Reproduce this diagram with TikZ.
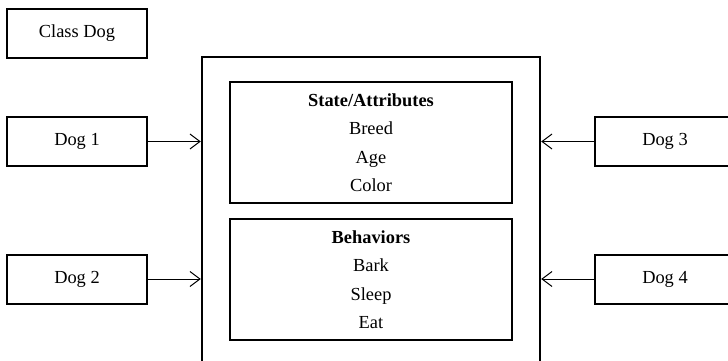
\documentclass[tikz,border=0pt]{standalone}
\usepackage{fontspec}
\setmainfont{Liberation Serif}
\usetikzlibrary{arrows.meta}

\tikzset{
	dogbox/.style={draw, line width=1pt, minimum width=70pt, minimum height=24.5pt, inner sep=0pt},
	groupbox/.style={draw, line width=1pt, minimum width=141pt, minimum height=60.5pt, align=center, inner sep=0pt},
	link/.style={line width=0.5pt, -{Straight Barb[length=5pt,width=7.5pt,line width=0.5pt]}}
}

\begin{document}
\begin{tikzpicture}[x=0.5pt, y=-0.5pt, font=\fontsize{9.2}{14.25}\selectfont]
				\clip (0,0) rectangle (728,360);
				\node[dogbox] (classdog) at (77,33.5) {Class Dog};
				\node[draw, line width=1.2pt, minimum width=169pt, minimum height=171pt, inner sep=0pt] (cls) at (371,228) {};
				\node[groupbox] (state) at (371,142.5) {\textbf{State/Attributes}\\Breed\\Age\\Color};
				\node[groupbox] (behav) at (371,279.5) {\textbf{Behaviors}\\Bark\\Sleep\\Eat};
				\foreach \n/\y in {1/141.5, 2/279}
				{
					\node[dogbox] (dog\n) at (77,\y) {Dog \n};
					\draw[link] (dog\n.east) -- (dog\n.east -| cls.west);
				}
				\foreach \n/\y in {3/141.5, 4/279}
				{
					\node[dogbox] (dog\n) at (665,\y) {Dog \n};
					\draw[link] (dog\n.west) -- (dog\n.west -| cls.east);
				}
			\end{tikzpicture}
\end{document}
